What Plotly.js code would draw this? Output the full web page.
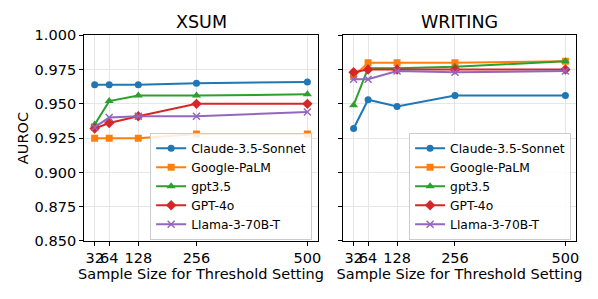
<!DOCTYPE html>
<html><head><meta charset="utf-8">
<script src="https://cdn.plot.ly/plotly-3.0.1.min.js"></script>
<style>html,body{margin:0;padding:0;background:#fff}#c{width:598px;height:299px}</style>
</head><body><div id="c"></div>
<script>
const sampleSizes = [32, 64, 128, 256, 500];
const models = ["Claude-3.5-Sonnet", "Google-PaLM", "gpt3.5", "GPT-4o", "Llama-3-70B-T"];
const xsum = {
  "Claude-3.5-Sonnet": [0.964, 0.964, 0.964, 0.965, 0.966],
  "Google-PaLM":       [0.925, 0.925, 0.925, 0.928, 0.928],
  "gpt3.5":            [0.935, 0.952, 0.956, 0.956, 0.957],
  "GPT-4o":            [0.932, 0.936, 0.941, 0.950, 0.950],
  "Llama-3-70B-T":     [0.933, 0.940, 0.941, 0.941, 0.944]
};
const writing = {
  "Claude-3.5-Sonnet": [0.932, 0.953, 0.948, 0.956, 0.956],
  "Google-PaLM":       [0.970, 0.980, 0.980, 0.980, 0.981],
  "gpt3.5":            [0.949, 0.976, 0.976, 0.977, 0.981],
  "GPT-4o":            [0.973, 0.975, 0.975, 0.975, 0.975],
  "Llama-3-70B-T":     [0.968, 0.968, 0.974, 0.973, 0.974]
};
const yTicks = [0.850, 0.875, 0.900, 0.925, 0.950, 0.975, 1.000];
const panelTitles = ["XSUM", "WRITING"];

const colors = ["#1f77b4", "#ff7f0e", "#2ca02c", "#d62728", "#9467bd"];
const symbols = ["circle", "square", "triangle-up", "diamond", "x-thin-open"];
const sizes = [7, 7, 8, 8, 7];

const traces = [];
[xsum, writing].forEach((panel, p) => {
  models.forEach((m, i) => {
    traces.push({
      x: sampleSizes, y: panel[m], name: m, type: "scatter", mode: "lines+markers",
      xaxis: p === 0 ? "x" : "x2", yaxis: p === 0 ? "y" : "y2",
      legend: p === 0 ? "legend" : "legend2",
      line: {color: colors[i], width: 2},
      marker: {symbol: symbols[i], size: sizes[i], color: colors[i],
               line: {color: colors[i], width: i === 4 ? 1.5 : 0}}
    });
  });
});

const font = {family: "DejaVu Sans", size: 14.5, color: "#000"};
const xax = (dom) => ({
  domain: dom, range: [8.6, 523.4], tickvals: sampleSizes, ticktext: sampleSizes.map(String),
  tickangle: 0,
  showgrid: true, gridcolor: "#e6e6e6", gridwidth: 1, zeroline: false,
  showline: true, linecolor: "#000", linewidth: 1, mirror: true,
  ticks: "outside", ticklen: 4, tickcolor: "#000", tickfont: font, automargin: false,
  title: {text: "Sample Size for Threshold Setting", font: font, standoff: 2}
});
const yax = (showLabels, anchor) => ({
  domain: [0.194, 0.882], range: [0.85, 1.0], tickvals: yTicks,
  ticktext: yTicks.map(v => v.toFixed(3)), showticklabels: showLabels,
  showgrid: true, gridcolor: "#e6e6e6", gridwidth: 1, zeroline: false,
  showline: true, linecolor: "#000", linewidth: 1, mirror: true,
  ticks: "outside", ticklen: 4, tickcolor: "#000", tickfont: font, automargin: false,
  anchor: anchor
});
const legendStyle = (x) => ({
  x: x, y: 0.198, xref: "paper", yref: "paper", xanchor: "right", yanchor: "bottom",
  bgcolor: "rgba(255,255,255,0.85)", bordercolor: "#cccccc", borderwidth: 1,
  font: {family: "DejaVu Sans", size: 12.3, color: "#000"}, tracegroupgap: 0, itemwidth: 30
});

const annotations = panelTitles.map((t, i) => ({
  text: t, xref: "paper", yref: "paper",
  x: i === 0 ? (0.1405 + 0.5318) / 2 : (0.5736 + 0.9632) / 2,
  y: 0.885, xanchor: "center", yanchor: "bottom", showarrow: false,
  font: {family: "DejaVu Sans", size: 17.5, color: "#000"}
}));
annotations.push({
  text: "AUROC", xref: "paper", yref: "paper", x: 23 / 598, y: 0.538,
  xanchor: "center", yanchor: "middle", textangle: -90, showarrow: false, font: font
});

const layout = {
  width: 598, height: 299, margin: {l: 0, r: 0, t: 0, b: 0},
  paper_bgcolor: "#fff", plot_bgcolor: "#fff", font: font,
  xaxis: xax([0.1405, 0.5318]),
  xaxis2: Object.assign(xax([0.5736, 0.9632]), {anchor: "y2"}),
  yaxis: yax(true, "x"),
  yaxis2: yax(false, "x2"),
  legend: legendStyle(0.522),
  legend2: legendStyle(0.955),
  annotations: annotations,
  showlegend: true
};
Plotly.newPlot("c", traces, layout, {displayModeBar: false, staticPlot: true});
</script>
</body></html>
